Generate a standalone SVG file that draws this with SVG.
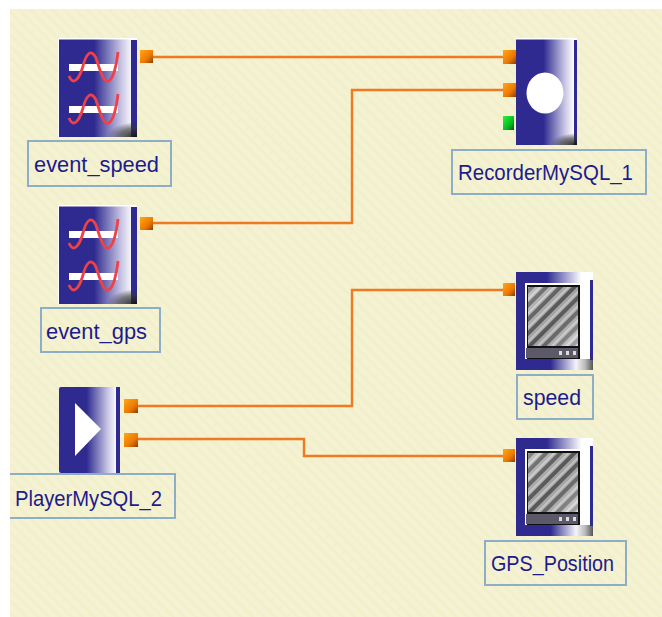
<svg xmlns="http://www.w3.org/2000/svg" width="662" height="617" viewBox="0 0 662 617">
<style>
.lbl{fill:none;stroke:#8eaec8;stroke-width:2}
.t{font-family:"Liberation Sans",Arial,sans-serif;font-size:21.5px;fill:#1c1c8c}
.w{fill:none;stroke:#ee7a22;stroke-width:2.4}
.ico{fill:url(#h)}
.blue{fill:#2e2a90}
.edge{fill:#fff}
</style>
<defs>
<pattern id="bg" width="8" height="8" patternUnits="userSpaceOnUse" patternTransform="rotate(45)"><rect width="8" height="8" fill="#f5f2d3"/><rect width="8" height="3" fill="#f2efcb"/></pattern>
<linearGradient id="h" x1="0" y1="0" x2="1" y2="0"><stop offset="0" stop-color="#2e2a90"/><stop offset=".45" stop-color="#2e2a90"/><stop offset=".8" stop-color="#c8c6e4"/><stop offset=".95" stop-color="#fff"/><stop offset="1" stop-color="#fff"/></linearGradient>
<linearGradient id="tb" x1="0" y1="0" x2="1" y2="0"><stop offset="0" stop-color="#2e2a90"/><stop offset=".4" stop-color="#2e2a90"/><stop offset=".85" stop-color="#fff"/><stop offset="1" stop-color="#fff"/></linearGradient>
<linearGradient id="bb" x1="0" y1="0" x2="1" y2="0"><stop offset="0" stop-color="#2e2a90"/><stop offset=".45" stop-color="#2e2a90"/><stop offset=".78" stop-color="#f4f4fa"/><stop offset=".9" stop-color="#b8b8b8"/><stop offset="1" stop-color="#555"/></linearGradient>
<radialGradient id="corner" cx="1" cy="1" r="1"><stop offset="0" stop-color="#111" stop-opacity=".95"/><stop offset=".6" stop-color="#333" stop-opacity=".6"/><stop offset="1" stop-color="#333" stop-opacity="0"/></radialGradient>
<linearGradient id="po" x1="0" y1="0" x2="1" y2="1"><stop offset="0" stop-color="#ffa818"/><stop offset=".6" stop-color="#ee7800"/><stop offset=".85" stop-color="#b05600"/><stop offset="1" stop-color="#7a3c00"/></linearGradient>
<linearGradient id="pg" x1="0" y1="0" x2="1" y2="1"><stop offset="0" stop-color="#30f040"/><stop offset=".6" stop-color="#00c020"/><stop offset="1" stop-color="#005a10"/></linearGradient>
<linearGradient id="gl" x1="0" y1="0" x2="1" y2="1"><stop offset="0" stop-color="#fff" stop-opacity=".35"/><stop offset=".5" stop-color="#888" stop-opacity=".15"/><stop offset="1" stop-color="#fff" stop-opacity=".55"/></linearGradient>
<pattern id="hatch" width="10" height="10" patternUnits="userSpaceOnUse" patternTransform="rotate(-45)"><rect width="10" height="10" fill="#a8a8a8"/><rect width="10" height="4" fill="#4c4c4c"/><rect y="7" width="10" height="1.500" fill="#d8d8d8"/></pattern>
<g id="sine"><rect x="10" y="0" width="49" height="7" fill="#fff"/><path d="M10 12C14 22 20 16 24 2C27 -10 32 -16 37 -6C41 6 45 22 51 16C55 12 57 4 59 -12" fill="none" stroke="#f04048" stroke-width="2.800"/></g>
<g id="evt"><rect x="0" y="0" width="78" height="99" class="ico"/><rect x="72" y="2" width="6" height="97" class="blue"/><rect x="48" y="84" width="30" height="15" fill="url(#corner)"/><rect x="0" y="0" width="78" height="1.500" class="edge"/><rect x="-1" y="0" width="1" height="99" class="edge"/><use href="#sine" transform="translate(0,26)"/><use href="#sine" transform="translate(0,68)"/></g>
<g id="disp"><rect x="0" y="0" width="77" height="98" class="blue"/><rect x="0" y="0" width="77" height="11" fill="url(#tb)"/><rect x="0" y="87" width="77" height="11" fill="url(#bb)"/><rect x="64" y="11" width="10" height="76" fill="#fff"/><rect x="74" y="8" width="3" height="80" class="blue"/><rect x="9" y="11" width="55" height="76" fill="#fff"/><rect x="11" y="13" width="53" height="74" fill="#111"/><rect x="12" y="15" width="50" height="59" fill="url(#hatch)"/><rect x="12" y="15" width="50" height="59" fill="url(#gl)"/><rect x="10" y="76" width="52" height="10" fill="#5c5a68"/><rect x="43" y="79" width="3" height="4" fill="#ddd"/><rect x="50" y="79" width="3" height="4" fill="#ddd"/><rect x="57" y="79" width="3" height="4" fill="#ddd"/></g>
</defs>
<rect width="662" height="617" fill="#fff"/>
<rect x="10" y="9" width="652" height="608" fill="url(#bg)"/>
<g id="connectors">
<path class="w" d="M153 57H503"/>
<path class="w" d="M153 223H352V90H503"/>
<path class="w" d="M138 406H352V290H503"/>
<path class="w" d="M138 439H304V456H503"/>
</g>
<g id="event_speed">
<use href="#evt" transform="translate(59,38)"/>
<rect x="140" y="50" width="13" height="13" fill="url(#po)"/>
<rect x="28" y="141" width="143" height="45" class="lbl"/><text x="34" y="172" class="t" textLength="125" lengthAdjust="spacingAndGlyphs">event_speed</text>
</g>
<g id="event_gps">
<use href="#evt" transform="translate(59,205)"/>
<rect x="140" y="217" width="13" height="13" fill="url(#po)"/>
<rect x="41" y="308" width="119" height="44" class="lbl"/><text x="46" y="339" class="t" textLength="101" lengthAdjust="spacingAndGlyphs">event_gps</text>
</g>
<g id="RecorderMySQL_1">
<rect x="516" y="38" width="61" height="107" class="ico"/><rect x="574" y="40" width="3" height="105" class="blue"/><rect x="550" y="133" width="27" height="12" fill="url(#corner)"/><rect x="516" y="38" width="61" height="1.500" class="edge"/>
<ellipse cx="545" cy="93" rx="18.500" ry="20.500" fill="#fff"/>
<rect x="503" y="50" width="13" height="14" fill="url(#po)"/><rect x="503" y="83" width="13" height="14" fill="url(#po)"/><rect x="503" y="116" width="11" height="14" fill="url(#pg)"/>
<rect x="452" y="150" width="194" height="44" class="lbl"/><text x="458" y="180" class="t" textLength="175" lengthAdjust="spacingAndGlyphs">RecorderMySQL_1</text>
</g>
<g id="PlayerMySQL_2">
<rect x="59" y="387" width="61" height="86" rx="2" class="ico"/><rect x="116" y="387" width="4" height="86" class="blue"/>
<path d="M75 403L101 429L75 456Z" fill="#fff"/>
<rect x="124" y="399" width="14" height="14" fill="url(#po)"/><rect x="124" y="433" width="14" height="14" fill="url(#po)"/>
<path d="M10 474H175V518H10" class="lbl"/><text x="15" y="506" class="t" textLength="147" lengthAdjust="spacingAndGlyphs">PlayerMySQL_2</text>
</g>
<g id="speed">
<use href="#disp" transform="translate(516,272)"/>
<rect x="503" y="283" width="12" height="13" fill="url(#po)"/>
<rect x="517" y="375" width="76" height="44" class="lbl"/><text x="523" y="405" class="t" textLength="58" lengthAdjust="spacingAndGlyphs">speed</text>
</g>
<g id="GPS_Position">
<use href="#disp" transform="translate(516,438)"/>
<rect x="503" y="449" width="12" height="13" fill="url(#po)"/>
<rect x="485" y="541" width="141" height="44" class="lbl"/><text x="491" y="571" class="t" textLength="123" lengthAdjust="spacingAndGlyphs">GPS_Position</text>
</g>
</svg>
